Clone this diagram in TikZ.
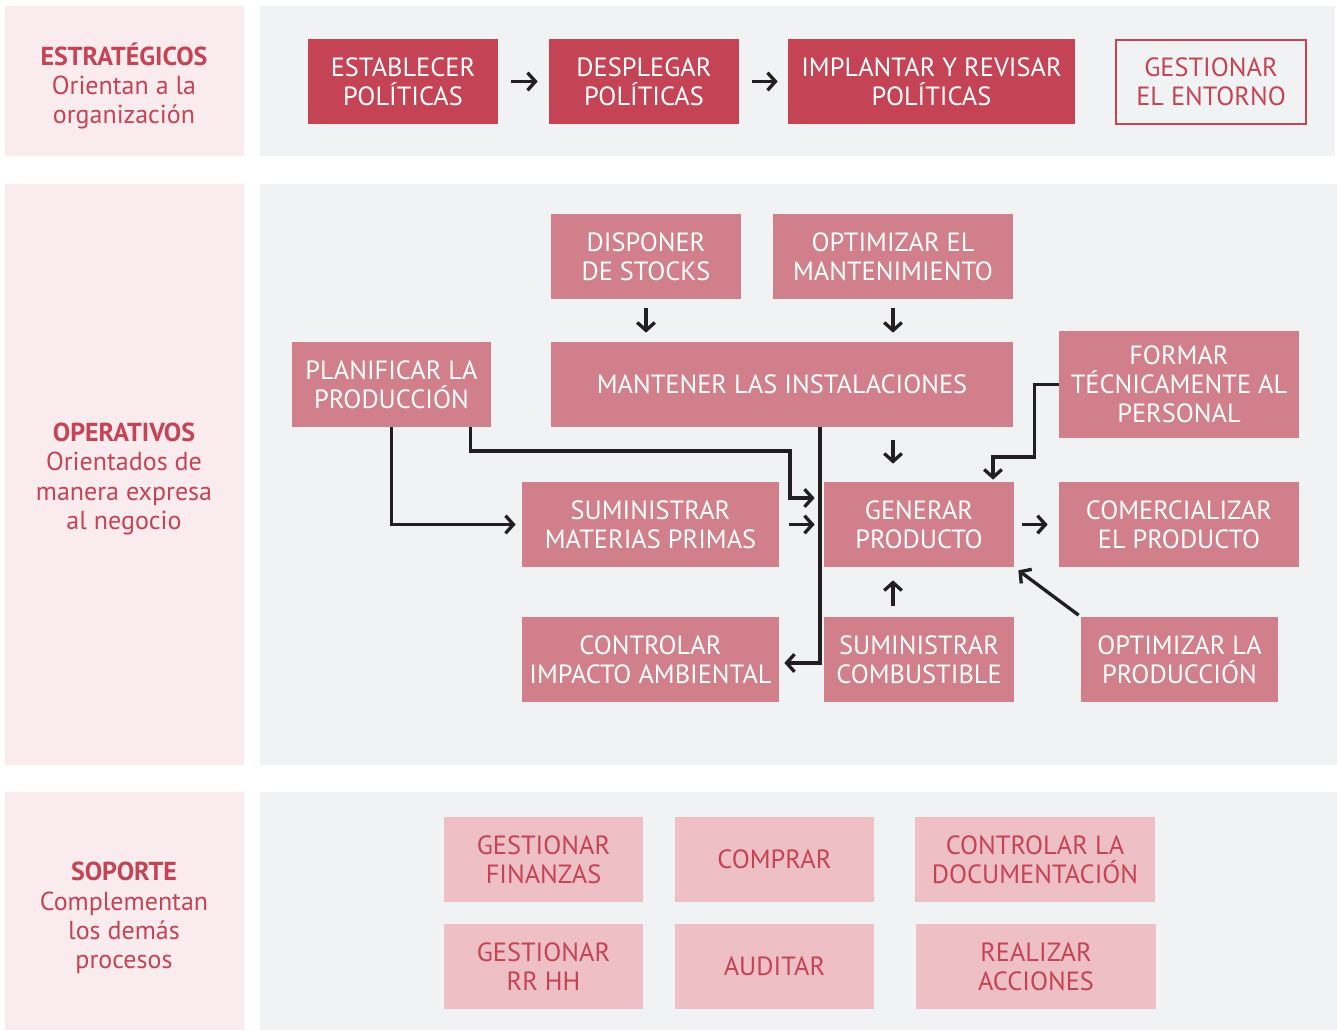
\documentclass[tikz,border=0pt]{standalone}
\usepackage{fontspec}
\setmainfont{PT Sans}
\usetikzlibrary{arrows.meta}
\definecolor{sidebg}{HTML}{F9EBEE}
\definecolor{panelbg}{HTML}{F1F2F4}
\definecolor{deepred}{HTML}{C44455}
\definecolor{midpink}{HTML}{D17F8A}
\definecolor{lightpink}{HTML}{EEBFC5}
\definecolor{ink}{HTML}{231F20}

% box from corner (x1,y1) to corner (x2,y2) in pixel units
\newcommand\pbox[7]{%
  \node[#1, minimum width={(#5-#3)*0.02cm}, minimum height={(#6-#4)*0.02cm}]
    (#2) at ({(#3+#5)/2},{(#4+#6)/2}) {#7};}

\begin{document}
\begin{tikzpicture}[x=0.02cm, y=-0.02cm,
  txt/.style={font=\fontsize{15}{16.4}\selectfont, align=center, inner sep=0pt},
  strat/.style={txt, fill=deepred, text=white},
  outl/.style={txt, draw=deepred, line width=1.3pt, text=deepred},
  oper/.style={txt, fill=midpink, text=white},
  supp/.style={txt, fill=lightpink, text=deepred},
  side/.style={txt, text=deepred, font=\fontsize{14.8}{16.6}\selectfont},
  link/.style={draw=ink, line width=1.9pt, -{Straight Barb[length=4.5pt,width=10pt]}},
]
\useasboundingbox (0,0) rectangle (1339,1030);
\fill[white] (0,0) rectangle (1339,1030);

% background bands
\fill[sidebg] (5,6) rectangle (244,156);
\fill[sidebg] (5,184) rectangle (244,765);
\fill[sidebg] (5,792) rectangle (244,1030);
\fill[panelbg] (260,6) rectangle (1335,156);
\fill[panelbg] (260,184) rectangle (1337,765);
\fill[panelbg] (260,792) rectangle (1337,1030);

% row labels
\node[side] (lblE) at (124,86) {\textbf{ESTRATÉGICOS}\\Orientan a la\\organización};
\node[side] (lblO) at (124,479) {\textbf{OPERATIVOS}\\Orientados de\\manera expresa\\al negocio};
\node[side] (lblS) at (124,918) {\textbf{SOPORTE}\\Complementan\\los demás\\procesos};

% strategic processes
\pbox{strat}{estab}{308}{39}{498}{124}{ESTABLECER\\POLÍTICAS}
\pbox{strat}{despl}{549}{39}{739}{124}{DESPLEGAR\\POLÍTICAS}
\pbox{strat}{impl}{788}{39}{1075}{124}{IMPLANTAR Y REVISAR\\POLÍTICAS}
\pbox{outl}{entorno}{1116}{40}{1306}{124}{GESTIONAR\\EL ENTORNO}

% operative processes
\pbox{oper}{stocks}{551}{214}{741}{299}{DISPONER\\DE STOCKS}
\pbox{oper}{optm}{773}{214}{1013}{299}{OPTIMIZAR EL\\MANTENIMIENTO}
\pbox{oper}{mant}{551}{342}{1013}{427}{MANTENER LAS INSTALACIONES}
\pbox{oper}{plan}{292}{342}{491}{427}{PLANIFICAR LA\\PRODUCCIÓN}
\pbox{oper}{form}{1059}{331}{1299}{438}{FORMAR\\TÉCNICAMENTE AL\\PERSONAL}
\pbox{oper}{mp}{522}{482}{779}{567}{SUMINISTRAR\\MATERIAS PRIMAS}
\pbox{oper}{gen}{824}{482}{1014}{567}{GENERAR\\PRODUCTO}
\pbox{oper}{com}{1059}{482}{1299}{567}{COMERCIALIZAR\\EL PRODUCTO}
\pbox{oper}{ctrl}{522}{617}{779}{702}{CONTROLAR\\IMPACTO AMBIENTAL}
\pbox{oper}{comb}{824}{617}{1014}{702}{SUMINISTRAR\\COMBUSTIBLE}
\pbox{oper}{optp}{1081}{617}{1278}{702}{OPTIMIZAR LA\\PRODUCCIÓN}

% support processes
\pbox{supp}{fin}{444}{817}{643}{902}{GESTIONAR\\FINANZAS}
\pbox{supp}{compr}{675}{817}{874}{902}{COMPRAR}
\pbox{supp}{docu}{915}{817}{1155}{902}{CONTROLAR LA\\DOCUMENTACIÓN}
\pbox{supp}{rrhh}{444}{924}{643}{1009}{GESTIONAR\\RR HH}
\pbox{supp}{audit}{675}{924}{874}{1009}{AUDITAR}
\pbox{supp}{acc}{916}{924}{1156}{1009}{REALIZAR\\ACCIONES}

% strategic flow
\draw[link, shorten <=0.26cm, shorten >=0.22cm] (estab) -- (despl);
\draw[link, shorten <=0.26cm, shorten >=0.2cm] (despl) -- (impl);

% short arrows in the operative block
\draw[link, shorten <=0.18cm, shorten >=0.18cm] (stocks.south) -- (stocks.south |- mant.north);
\draw[link, shorten <=0.18cm, shorten >=0.18cm] (optm.south) -- (optm.south |- mant.north);
\draw[link, shorten <=0.26cm, shorten >=0.36cm] (optm.south |- mant.south) -- (optm.south |- gen.north);
\draw[link, shorten <=0.22cm, shorten >=0.26cm] (optm.south |- comb.north) -- (optm.south |- gen.south);
\draw[link, shorten <=0.2cm, shorten >=0.18cm] (mp) -- (gen);
\draw[link, shorten <=0.16cm, shorten >=0.22cm] (gen) -- (com);
\draw[link, shorten <=0.05cm, shorten >=0.1cm] (optp.north west) -- (gen.south east);

% routed connectors
\coordinate (bendA) at (790,451);
\coordinate (bendB) at (993,457);
\draw[link, shorten >=0.12cm] (plan.south) |- (mp.west);
\draw[link, shorten >=0.18cm] ([xshift=-0.42cm]plan.south east) |- (bendA) |- ([yshift=0.53cm]gen.west);
\draw[link, shorten >=0.1cm] ([xshift=0.76cm]mant.south) |- ([yshift=-0.07cm]ctrl.east);
\draw[link, shorten >=0.04cm] (form.west) -- ++(-24,0) |- (bendB) -- (bendB |- gen.north);
\end{tikzpicture}
\end{document}
